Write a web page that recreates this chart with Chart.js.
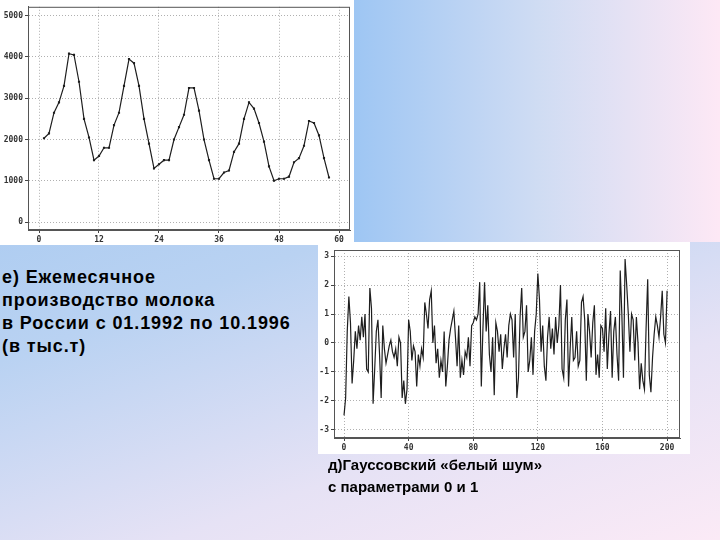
<!DOCTYPE html>
<html>
<head>
<meta charset="utf-8">
<script src="https://cdn.jsdelivr.net/npm/chart.js@4"></script>
<style>
  body { margin: 0; width: 720px; height: 540px; position: relative; overflow: hidden;
    background: linear-gradient(160deg, #9cc4f0 0%, #b9d2f2 45%, #e6e2f5 75%, #fbeaf6 100%);
    font-family: "Liberation Sans", Arial, sans-serif; }
  #topRight { position: absolute; left: 354px; top: 0; width: 366px; height: 242px;
    background: linear-gradient(90deg, #9ec6f3 0%, #cfdcf3 50%, #fde8f5 100%); }
  .box { position: absolute; background: #fff; }
  .txt { position: absolute; color: #000; font-weight: bold; }
</style>
</head>
<body>
<div id="topRight"></div>
<div class="box" style="left:0;top:0;width:354px;height:245px"><canvas id="milk" width="354" height="245"></canvas></div>
<div class="box" style="left:318px;top:242px;width:372px;height:212px"><canvas id="noise" width="372" height="212"></canvas></div>
<div class="txt" style="left:2px;top:266px;font-size:18px;line-height:23px;letter-spacing:0.9px">е) Ежемесячное<br>производство молока<br>в России с 01.1992 по 10.1996<br>(в тыс.т)</div>
<div class="txt" style="left:328px;top:454px;font-size:15px;line-height:22px">д)Гауссовский «белый шум»<br>с параметрами 0 и 1</div>
<script>
const milkMonths = Array.from({ length: 58 }, (_, i) => i + 1);
const milkValues = [
  2030, 2150, 2650, 2900, 3300, 4080, 4050, 3400, 2500, 2050,
  1500, 1600, 1800, 1800, 2350, 2650, 3300, 3950, 3850, 3300,
  2500, 1900, 1300, 1400, 1500, 1500, 2000, 2300, 2600, 3250,
  3250, 2700, 2000, 1500, 1050, 1050, 1200, 1250, 1700, 1900,
  2500, 2900, 2750, 2400, 1950, 1350, 1000, 1050, 1050, 1100,
  1450, 1550, 1850, 2450, 2400, 2100, 1550, 1080
];
const milkYTicks = [0, 1000, 2000, 3000, 4000, 5000];
const milkXTicks = [0, 12, 24, 36, 48, 60];

const noiseValues = [
  -2.5, -1.9, 0.4, 1.6, 0.7, -1.4, -0.6, 0.4, -0.2, 0.6,
  0.1, 0.9, 0.2, 1.0, -0.9, -1.0, 1.9, 1.2, -2.1, -0.9,
  0.4, 0.8, -0.4, -1.9, 0.6, -0.2, -0.7, -0.4, -0.1, 0.1,
  -0.3, -0.5, -0.2, -0.8, 0.2, 0.0, -1.9, -1.3, -2.1, -1.6,
  0.8, 0.4, -0.6, -0.1, -0.3, -1.5, -0.4, -0.8, -0.2, -0.5,
  1.4, 1.0, 0.5, 1.5, 1.8, 0.0, 0.6, -0.7, -0.2, -1.2,
  -0.6, -1.0, 0.4, -1.5, -0.8, 0.1, 0.5, 0.8, 1.1, 0.2,
  -0.8, 0.6, -1.2, -0.6, -1.1, -0.3, -0.5, 0.2, -0.8, 0.6,
  0.7, 0.9, 0.8, 1.0, 2.1, -1.5, 0.5, 2.1, 0.4, 1.3,
  -0.4, -1.0, 0.2, -1.8, 0.7, 0.4, -0.3, 0.3, -0.9, -0.2,
  0.3, -0.5, 0.6, 1.0, 0.8, -0.5, 1.0, -1.9, -1.2, 0.9,
  1.9, 0.2, 0.4, 1.3, -1.0, -0.6, 0.2, -1.1, 0.4, 1.0,
  2.4, 1.5, -0.3, 0.6, -0.8, -1.3, 0.2, 0.9, -0.2, 0.5,
  -0.4, 0.9, 0.0, 0.6, 2.0, -0.9, -1.2, 0.8, 1.5, -1.5,
  -0.2, 0.9, -0.6, -0.5, 0.4, -0.8, -0.6, 1.4, 1.6, 0.8,
  -1.3, 1.0, 0.4, -0.5, 0.7, 1.3, -1.1, -0.4, -1.2, 0.6,
  0.5, -0.3, 1.2, -0.9, 0.3, 1.1, -1.2, 0.4, 0.9, -0.4,
  -1.3, 2.5, 1.0, -1.2, 2.9, 2.0, 1.0, -0.3, 1.0, 0.8,
  -0.6, 0.9, 0.0, -1.6, -0.7, -1.3, -1.6, 0.5, 2.2, -1.1,
  -1.7, -0.5, 0.3, 0.9, 0.6, 0.2, 0.9, 1.8, 0.3, 0.0,
  1.8
];
const noiseYTicks = [-3, -2, -1, 0, 1, 2, 3];
const noiseXTicks = [0, 40, 80, 120, 160, 200];

const tickFont = { family: "DejaVu Sans Mono", size: 8, weight: "bold" };

function axis(min, max, ticks, fitSize, isX) {
  return {
    type: "linear", min, max,
    afterBuildTicks: (s) => { s.ticks = ticks.map((v) => ({ value: v })); },
    afterFit: (s) => { if (isX) s.height = fitSize; else s.width = fitSize; },
    grid: { color: "#b0b0b0", lineWidth: 1, tickLength: 3, tickColor: "#444", tickBorderDash: [] },
    border: { display: true, color: "#555", width: 1, dash: [1, 2] },
    ticks: { font: tickFont, color: "#333", padding: 2, autoSkip: false, callback: (v) => String(v) },
  };
}

const frame = {
  id: "frame",
  afterDraw(chart) {
    const { ctx, chartArea: a } = chart;
    ctx.save();
    ctx.strokeStyle = "#555";
    ctx.lineWidth = 1;
    ctx.strokeRect(a.left + 0.5, a.top + 0.5, a.right - a.left - 1, a.bottom - a.top - 1);
    ctx.restore();
  },
};

function makeChart(id, points, xs, ys, pointRadius, padding, yFit, xFit) {
  return new Chart(document.getElementById(id), {
    type: "line",
    data: { datasets: [{ data: points, borderColor: "#1e1e1e", borderWidth: 1.2,
      pointRadius, pointStyle: "rect", pointBackgroundColor: "#1e1e1e", pointBorderWidth: 0,
      tension: 0 }] },
    options: {
      responsive: false, animation: false,
      layout: { padding },
      plugins: { legend: { display: false }, tooltip: { enabled: false } },
      scales: { x: axis(xs[0], xs[1], xs[2], xFit, true), y: axis(ys[0], ys[1], ys[2], yFit, false) },
    },
    plugins: [frame],
  });
}

makeChart("milk", milkValues.map((v, i) => ({ x: milkMonths[i], y: v })),
  [-2.2, 62.2, milkXTicks], [-192, 5216, milkYTicks], 1.5,
  { top: 5, right: 4, left: 0, bottom: 0 }, 28, 15);

makeChart("noise", noiseValues.map((v, i) => ({ x: i, y: v })),
  [-6.2, 208, noiseXTicks], [-3.28, 3.21, noiseYTicks], 0,
  { top: 8, right: 10, left: 0, bottom: 0 }, 16, 16);
</script>
</body>
</html>
